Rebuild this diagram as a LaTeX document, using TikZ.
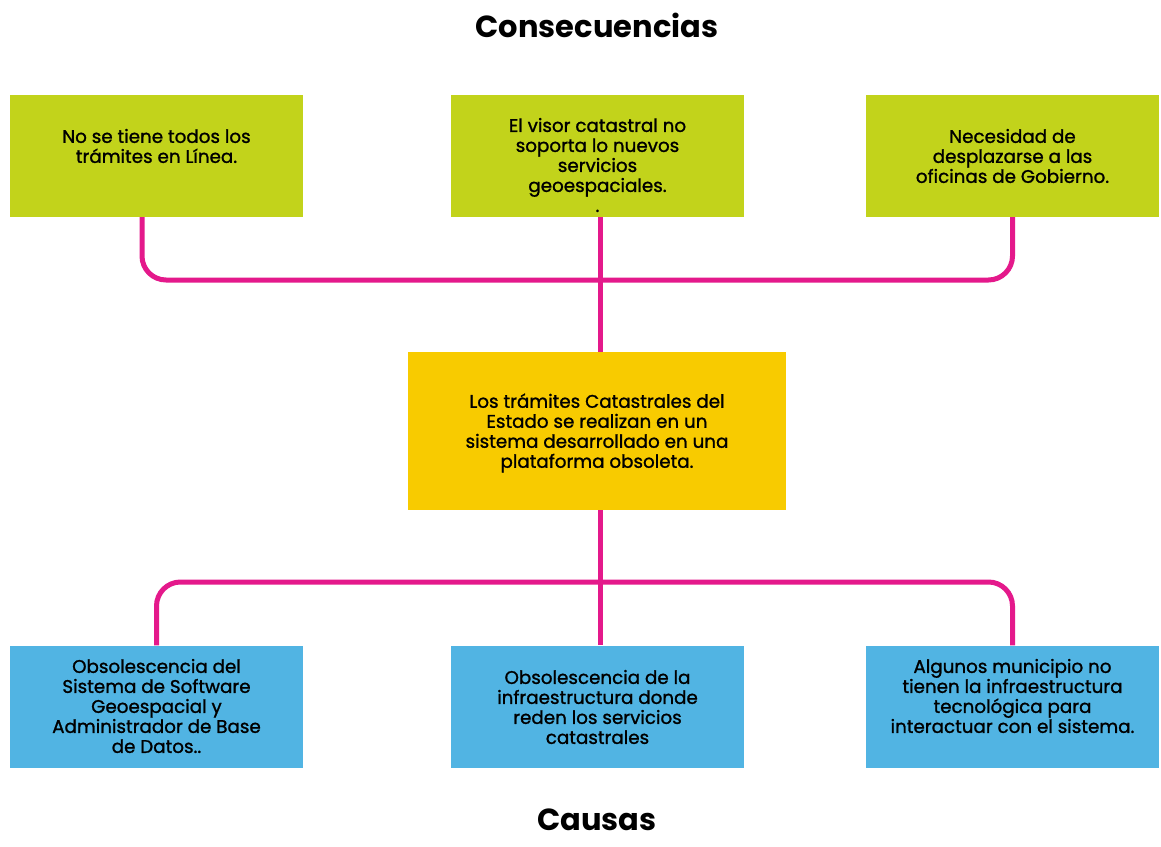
\documentclass[tikz,border=0pt]{standalone}
\usepackage{fontspec}
\setmainfont{Poppins}
\newfontfamily\boxfont{Poppins}[FakeBold=1.2]
\definecolor{limeg}{HTML}{C2D31B}
\definecolor{yellowc}{HTML}{F8CB00}
\definecolor{bluec}{HTML}{51B4E3}
\definecolor{magc}{HTML}{E4198B}
\begin{document}
\begin{tikzpicture}[x=1pt,y=-1pt,
  box/.style={draw=none, minimum width=293pt, minimum height=122pt, inner sep=0pt},
  txt/.style={align=center, font=\boxfont\fontsize{18.3}{20}\selectfont, inner sep=0pt, text=black},
  title/.style={font=\fontsize{30.5}{34}\selectfont\bfseries, inner sep=0pt},
  conn/.style={draw=magc, line width=5pt}]
\useasboundingbox (0,0) rectangle (1161,846);
\fill[white] (0,0) rectangle (1161,846);
% titles
\node[title] (tc) at (597,25) {Consecuencias};
\node[title] (tk) at (597,820) {Causas};
% connectors
\coordinate (jt) at (600,280);
\coordinate (jb) at (600,582);
% boxes
\node[box, fill=limeg] (c1) at (156.5,156) {};
\node[box, fill=limeg] (c2) at (597.5,156) {};
\node[box, fill=limeg] (c3) at (1012.5,156) {};
\node[box, fill=yellowc, minimum width=378pt, minimum height=158pt] (p) at (597,431) {};
\node[box, fill=bluec] (k1) at (156.5,706.5) {};
\node[box, fill=bluec] (k2) at (597.5,706.5) {};
\node[box, fill=bluec] (k3) at (1012.5,706.5) {};
\draw[conn, rounded corners=24pt] ([xshift=-14.5pt]c1.south) |- (jt) -| (c3.south);
\draw[conn] ([xshift=2.5pt]c2.south) -- ([xshift=3pt]p.north);
\draw[conn] ([xshift=3pt]p.south) -- ([xshift=2.5pt]k2.north);
\draw[conn, rounded corners=24pt] (k1.north) |- (jb) -| (k3.north);
% texts
\node[txt] (c1t) at (156.5,146) {No se tiene todos los\\trámites en Línea.};
\node[txt] (c2t) at (597.5,165) {El visor catastral no\\soporta lo nuevos\\servicios\\geoespaciales.\\.};
\node[txt] (c3t) at (1012.5,156) {Necesidad de\\desplazarse a las\\oficinas de Gobierno.};
\node[txt] (pt) at (597,433) {Los trámites Catastrales del\\Estado se realizan en un\\sistema desarrollado en una\\plataforma obsoleta.};
\node[txt] (k1t) at (156.5,706) {Obsolescencia del\\Sistema de Software\\Geoespacial y\\Administrador de Base\\de Datos..};
\node[txt] (k2t) at (597.5,707) {Obsolescencia de la\\infraestructura donde\\reden los servicios\\catastrales};
\node[txt] (k3t) at (1012.5,696) {Algunos municipio no\\tienen la infraestructura\\tecnológica para\\interactuar con el sistema.};
\end{tikzpicture}
\end{document}
